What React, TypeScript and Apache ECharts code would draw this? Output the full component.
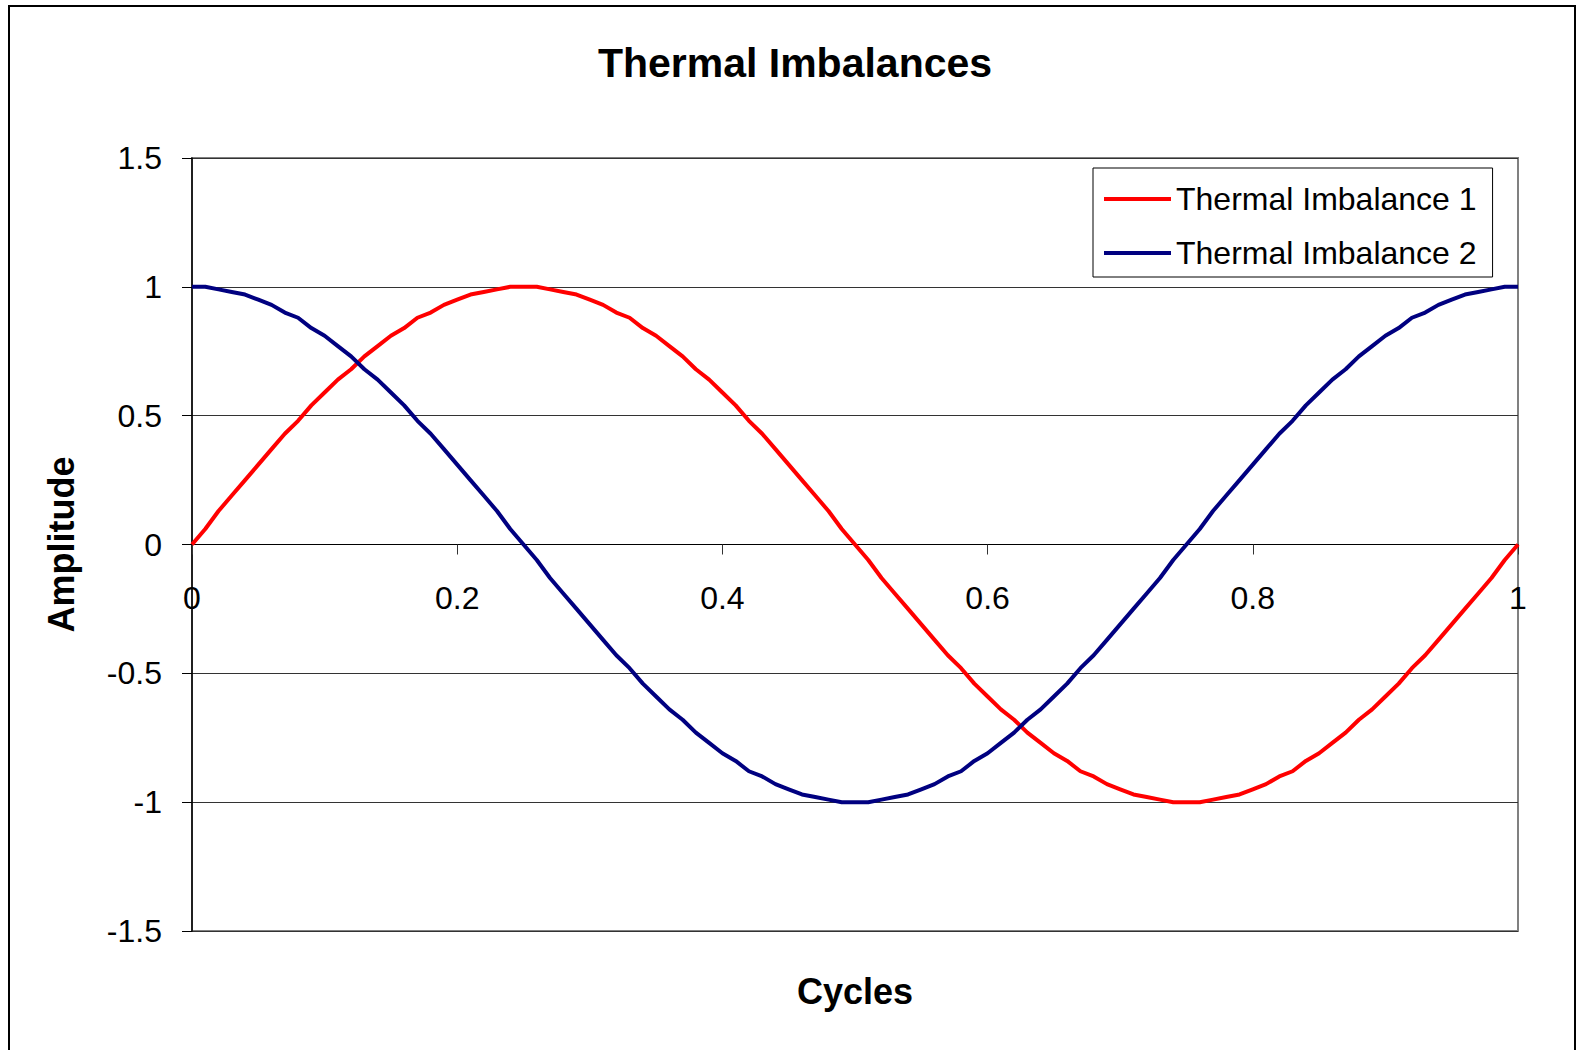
import React, { useEffect, useRef } from "react";
import * as echarts from "echarts";

const cycles: number[] = [
  0, 0.01, 0.02, 0.03, 0.04, 0.05, 0.06, 0.07, 0.08, 0.09,
  0.1, 0.11, 0.12, 0.13, 0.14, 0.15, 0.16, 0.17, 0.18, 0.19,
  0.2, 0.21, 0.22, 0.23, 0.24, 0.25, 0.26, 0.27, 0.28, 0.29,
  0.3, 0.31, 0.32, 0.33, 0.34, 0.35, 0.36, 0.37, 0.38, 0.39,
  0.4, 0.41, 0.42, 0.43, 0.44, 0.45, 0.46, 0.47, 0.48, 0.49,
  0.5, 0.51, 0.52, 0.53, 0.54, 0.55, 0.56, 0.57, 0.58, 0.59,
  0.6, 0.61, 0.62, 0.63, 0.64, 0.65, 0.66, 0.67, 0.68, 0.69,
  0.7, 0.71, 0.72, 0.73, 0.74, 0.75, 0.76, 0.77, 0.78, 0.79,
  0.8, 0.81, 0.82, 0.83, 0.84, 0.85, 0.86, 0.87, 0.88, 0.89,
  0.9, 0.91, 0.92, 0.93, 0.94, 0.95, 0.96, 0.97, 0.98, 0.99,
  1,
];

const imbalance1: number[] = [
  0, 0.06, 0.13, 0.19, 0.25, 0.31, 0.37, 0.43, 0.48, 0.54,
  0.59, 0.64, 0.68, 0.73, 0.77, 0.81, 0.84, 0.88, 0.9, 0.93,
  0.95, 0.97, 0.98, 0.99, 1, 1, 1, 0.99, 0.98, 0.97,
  0.95, 0.93, 0.9, 0.88, 0.84, 0.81, 0.77, 0.73, 0.68, 0.64,
  0.59, 0.54, 0.48, 0.43, 0.37, 0.31, 0.25, 0.19, 0.13, 0.06,
  0, -0.06, -0.13, -0.19, -0.25, -0.31, -0.37, -0.43, -0.48, -0.54,
  -0.59, -0.64, -0.68, -0.73, -0.77, -0.81, -0.84, -0.88, -0.9, -0.93,
  -0.95, -0.97, -0.98, -0.99, -1, -1, -1, -0.99, -0.98, -0.97,
  -0.95, -0.93, -0.9, -0.88, -0.84, -0.81, -0.77, -0.73, -0.68, -0.64,
  -0.59, -0.54, -0.48, -0.43, -0.37, -0.31, -0.25, -0.19, -0.13, -0.06,
  0,
];

const imbalance2: number[] = [
  1, 1, 0.99, 0.98, 0.97, 0.95, 0.93, 0.9, 0.88, 0.84,
  0.81, 0.77, 0.73, 0.68, 0.64, 0.59, 0.54, 0.48, 0.43, 0.37,
  0.31, 0.25, 0.19, 0.13, 0.06, 0, -0.06, -0.13, -0.19, -0.25,
  -0.31, -0.37, -0.43, -0.48, -0.54, -0.59, -0.64, -0.68, -0.73, -0.77,
  -0.81, -0.84, -0.88, -0.9, -0.93, -0.95, -0.97, -0.98, -0.99, -1,
  -1, -1, -0.99, -0.98, -0.97, -0.95, -0.93, -0.9, -0.88, -0.84,
  -0.81, -0.77, -0.73, -0.68, -0.64, -0.59, -0.54, -0.48, -0.43, -0.37,
  -0.31, -0.25, -0.19, -0.13, -0.06, 0, 0.06, 0.13, 0.19, 0.25,
  0.31, 0.37, 0.43, 0.48, 0.54, 0.59, 0.64, 0.68, 0.73, 0.77,
  0.81, 0.84, 0.88, 0.9, 0.93, 0.95, 0.97, 0.98, 0.99, 1,
  1,
];

const seriesNames = ["Thermal Imbalance 1", "Thermal Imbalance 2"];
const titleText = "Thermal Imbalances";
const xAxisName = "Cycles";
const yAxisName = "Amplitude";

const FONT = "'Liberation Sans', Arial, Helvetica, sans-serif";

export default function App() {
  const ref = useRef<HTMLDivElement>(null);

  useEffect(() => {
    if (!ref.current) return;
    const chart = echarts.init(ref.current, undefined, { renderer: "svg" });
    const pts1 = cycles.map((x, i) => [x, imbalance1[i]]);
    const pts2 = cycles.map((x, i) => [x, imbalance2[i]]);
    chart.setOption({
      animation: false,
      backgroundColor: "#ffffff",
      textStyle: { fontFamily: FONT },
      title: {
        text: titleText,
        left: 795,
        top: 42,
        textAlign: "center",
        padding: 0,
        textStyle: { fontFamily: FONT, fontSize: 41, fontWeight: "bold", color: "#000" },
      },
      graphic: [
        {
          type: "rect",
          shape: { x: 9, y: 6, width: 1566, height: 1100 },
          style: { fill: "none", stroke: "#000", lineWidth: 2 },
          silent: true,
          z: 0,
        },
      ],
      legend: {
        left: 1093,
        top: 168,
        orient: "vertical",
        icon: "rect",
        itemWidth: 67,
        itemHeight: 4,
        itemGap: 22,
        padding: [15, 16, 8, 11],
        borderColor: "#000",
        borderWidth: 1,
        backgroundColor: "#fff",
        textStyle: { fontFamily: FONT, fontSize: 32, lineHeight: 32, color: "#000" },
        data: seriesNames,
      },
      grid: {
        left: 192,
        right: 60,
        top: 158,
        bottom: 119,
        outerBoundsMode: "none",
        containLabel: false,
        show: true,
        borderColor: "#808080",
        borderWidth: 2,
        backgroundColor: "transparent",
      },
      xAxis: {
        type: "value",
        min: 0,
        max: 1,
        interval: 0.2,
        name: xAxisName,
        nameLocation: "middle",
        nameGap: 42,
        nameTextStyle: { fontFamily: FONT, fontSize: 36, fontWeight: "bold", color: "#000" },
        axisLine: { show: true, onZero: true, lineStyle: { color: "#000", width: 1 } },
        axisTick: { show: true, inside: false, length: 10, lineStyle: { color: "#333", width: 1 } },
        axisLabel: { fontFamily: FONT, fontSize: 32, color: "#000", margin: -349 },
        splitLine: { show: false },
      },
      yAxis: {
        type: "value",
        min: -1.5,
        max: 1.5,
        interval: 0.5,
        name: yAxisName,
        nameLocation: "middle",
        nameGap: 113,
        nameTextStyle: { fontFamily: FONT, fontSize: 36, fontWeight: "bold", color: "#000" },
        axisLine: { show: true, onZero: false, lineStyle: { color: "#000", width: 1.5 } },
        axisTick: { show: true, inside: false, length: 10, lineStyle: { color: "#000", width: 1 } },
        axisLabel: { fontFamily: FONT, fontSize: 32, color: "#000", margin: 30 },
        splitLine: { show: true, lineStyle: { color: "#333", width: 1 } },
      },
      series: [
        {
          name: seriesNames[0],
          type: "line",
          data: pts1,
          showSymbol: false,
          symbol: "none",
          lineStyle: { color: "#ff0000", width: 4 },
          itemStyle: { color: "#ff0000" },
        },
        {
          name: seriesNames[1],
          type: "line",
          data: pts2,
          showSymbol: false,
          symbol: "none",
          lineStyle: { color: "#000080", width: 4 },
          itemStyle: { color: "#000080" },
        },
      ],
    });
    return () => chart.dispose();
  }, []);

  return (
    <div
      ref={ref}
      style={{ position: "fixed", left: 0, top: 0, width: 1578, height: 1050, background: "#fff" }}
    />
  );
}
